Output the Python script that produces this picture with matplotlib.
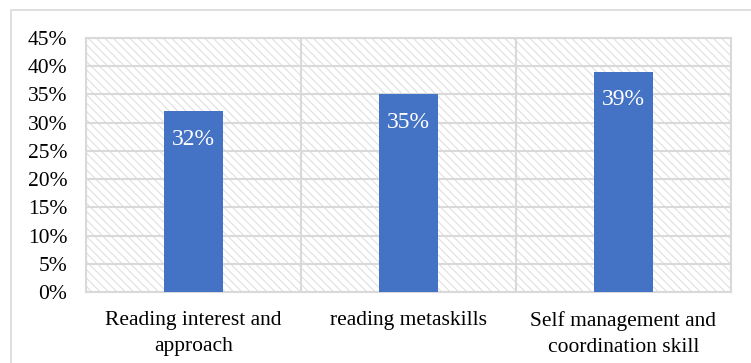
import matplotlib.pyplot as plt
import matplotlib.patches as patches
import numpy as np

categories = ["Reading interest and\napproach", "reading metaskills",
              "Self management and\ncoordination skill"]
values = [0.32, 0.35, 0.39]
yticks = [0.0, 0.05, 0.10, 0.15, 0.20, 0.25, 0.30, 0.35, 0.40, 0.45]

plt.rcParams['font.family'] = ['Liberation Serif', 'DejaVu Serif']
plt.rcParams['hatch.linewidth'] = 0.75

fig = plt.figure(figsize=(7.51, 3.63), dpi=100)
ax = fig.add_axes([86 / 751, 1 - 292 / 363, (731 - 86) / 751, (292 - 38) / 363])

# outer chart border
fig.patches.append(patches.Rectangle((11 / 751, -0.05), 1.0, 1 - 10 / 363 + 0.05,
                                     transform=fig.transFigure, fill=False,
                                     edgecolor='#d9d9d9', linewidth=1.2))

# hatched plot-area background
ax.add_patch(patches.Rectangle((0, 0), 1, 1, transform=ax.transAxes, facecolor='white',
                               edgecolor='#dedede', linewidth=0, hatch='\\' * 4,
                               zorder=0))

x = np.arange(len(categories))
bars = ax.bar(x, values, width=0.27, color='#4472c4', zorder=3)
for xi, v in zip(x, values):
    ax.text(xi, v - 0.049, f"{round(v * 100)}%", ha='center', va='center',
            color='white', fontsize=17, zorder=4)

ax.set_xlim(-0.5, len(categories) - 0.5)
ax.set_ylim(0, 0.45)
ax.set_yticks(yticks)
ax.set_yticklabels([f"{round(t * 100)}%" for t in yticks], fontsize=15.5)
ax.set_xticks(x)
ax.set_xticklabels(categories, fontsize=15.5, linespacing=1.45)
ax.set_xticks(np.arange(-0.5, len(categories), 1), minor=True)

ax.grid(axis='y', which='major', color='#d9d9d9', linewidth=1.5, zorder=1)
ax.grid(axis='x', which='minor', color='#d9d9d9', linewidth=1.5, zorder=1)
ax.tick_params(which='both', length=0)
ax.tick_params(axis='y', pad=13.5)
ax.tick_params(axis='x', pad=14)
for s in ax.spines.values():
    s.set_color('#d9d9d9')
    s.set_linewidth(1.5)
ax.set_axisbelow(True)

fig.savefig('out.png', dpi=100)
